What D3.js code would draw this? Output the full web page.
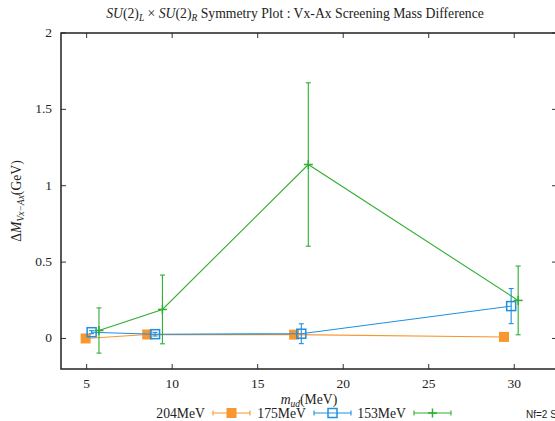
<!DOCTYPE html>
<html lang="en">
<head>
<meta charset="UTF-8">
<title>SU(2) Symmetry Plot</title>
<script src="https://d3js.org/d3.v7.min.js"></script>
<style>
    body { margin: 0; background: #fff; }
    svg text { font-family: "Liberation Serif", "DejaVu Serif", serif; fill: #222; }
    .tick-label { font-size: 13.5px; }
</style>
</head>
<body>
<svg id="chart" width="555" height="421"></svg>
<script>
// series labels (legend)
const massLabels = ["204MeV", "175MeV", "153MeV"];
const colors = ["#f8962f", "#1f8fe0", "#2fae2f"];

// m_ud (MeV) and Delta M (GeV) with errors
const mud204 = [4.94, 8.54, 17.13, 29.4];
const dm204 = [0.0, 0.026, 0.025, 0.01];
const err204 = [0.004, 0.004, 0.004, 0.004];

const mud175 = [5.29, 9.0, 17.55, 29.82];
const dm175 = [0.041, 0.028, 0.031, 0.212];
const err175 = [0.01, 0.012, 0.065, 0.115];

const mud153 = [5.72, 9.43, 17.96, 30.23];
const dm153 = [0.052, 0.19, 1.139, 0.249];
const err153 = [0.148, 0.225, 0.535, 0.225];

const xTicks = [5, 10, 15, 20, 25, 30];
const yTicks = [0, 0.5, 1, 1.5, 2];

const series = [
    { label: massLabels[0], color: colors[0], marker: "filled", x: mud204, y: dm204, e: err204 },
    { label: massLabels[1], color: colors[1], marker: "open", x: mud175, y: dm175, e: err175 },
    { label: massLabels[2], color: colors[2], marker: "plus", x: mud153, y: dm153, e: err153 }
];

const svg = d3.select("#chart");
const plot = { left: 61, right: 557, top: 33, bottom: 369 };

const x = d3.scaleLinear().domain([3.5, 32.5]).range([plot.left, plot.right]);
const y = d3.scaleLinear().domain([-0.2, 2]).range([plot.bottom, plot.top]);

// ticks on all four sides, pointing inward
const tickLen = 5;
const axes = svg.append("g").attr("stroke", "#333").attr("stroke-width", 1);
xTicks.forEach(t => {
    axes.append("line").attr("x1", x(t)).attr("x2", x(t)).attr("y1", plot.bottom).attr("y2", plot.bottom - tickLen);
    axes.append("line").attr("x1", x(t)).attr("x2", x(t)).attr("y1", plot.top).attr("y2", plot.top + tickLen);
});
yTicks.forEach(t => {
    axes.append("line").attr("x1", plot.left).attr("x2", plot.left + tickLen).attr("y1", y(t)).attr("y2", y(t));
    axes.append("line").attr("x1", plot.right).attr("x2", plot.right - tickLen).attr("y1", y(t)).attr("y2", y(t));
});

svg.selectAll(".xt").data(xTicks).enter().append("text")
    .attr("class", "tick-label")
    .attr("x", d => x(d)).attr("y", plot.bottom + 19)
    .attr("text-anchor", "middle")
    .text(d => d);

svg.selectAll(".yt").data(yTicks).enter().append("text")
    .attr("class", "tick-label")
    .attr("x", plot.left - 9).attr("y", d => y(d) + 4)
    .attr("text-anchor", "end")
    .text(d => d);

// border
svg.append("rect")
    .attr("x", plot.left).attr("y", plot.top)
    .attr("width", plot.right - plot.left).attr("height", plot.bottom - plot.top)
    .attr("fill", "none").attr("stroke", "#222").attr("stroke-width", 1.5);

function drawMarker(g, kind, cx, cy, color) {
    if (kind === "filled") {
        g.append("rect").attr("x", cx - 5).attr("y", cy - 5).attr("width", 10).attr("height", 10)
            .attr("fill", color);
    } else if (kind === "open") {
        g.append("rect").attr("x", cx - 4.5).attr("y", cy - 4.5).attr("width", 9).attr("height", 9)
            .attr("fill", "none").attr("stroke", color).attr("stroke-width", 1.5);
    } else {
        g.append("line").attr("x1", cx - 4.5).attr("x2", cx + 4.5).attr("y1", cy).attr("y2", cy)
            .attr("stroke", color).attr("stroke-width", 1.5);
        g.append("line").attr("x1", cx).attr("x2", cx).attr("y1", cy - 4.5).attr("y2", cy + 4.5)
            .attr("stroke", color).attr("stroke-width", 1.5);
    }
}

const line = d3.line().x(d => x(d[0])).y(d => y(d[1]));

series.forEach(s => {
    const g = svg.append("g");
    const pts = s.x.map((v, i) => [v, s.y[i], s.e[i]]);
    g.append("path").attr("d", line(pts))
        .attr("fill", "none").attr("stroke", s.color).attr("stroke-width", 1.1);
    pts.forEach(p => {
        const cx = x(p[0]);
        g.append("line").attr("x1", cx).attr("x2", cx).attr("y1", y(p[1] - p[2])).attr("y2", y(p[1] + p[2]))
            .attr("stroke", s.color).attr("stroke-width", 1.1);
        [p[1] - p[2], p[1] + p[2]].forEach(v => {
            g.append("line").attr("x1", cx - 2.5).attr("x2", cx + 2.5).attr("y1", y(v)).attr("y2", y(v))
                .attr("stroke", s.color).attr("stroke-width", 1.1);
        });
        drawMarker(g, s.marker, cx, y(p[1]), s.color);
    });
});

// title
const title = svg.append("text").attr("x", 295).attr("y", 18).attr("text-anchor", "middle").attr("font-size", 13.7);
title.append("tspan").attr("font-style", "italic").text("SU");
title.append("tspan").text("(2)");
title.append("tspan").attr("font-style", "italic").attr("font-size", 9.5).attr("dy", 3).text("L");
title.append("tspan").attr("dy", -3).text(" × ");
title.append("tspan").attr("font-style", "italic").text("SU");
title.append("tspan").text("(2)");
title.append("tspan").attr("font-style", "italic").attr("font-size", 9.5).attr("dy", 3).text("R");
title.append("tspan").attr("dy", -3).text(" Symmetry Plot : Vx-Ax Screening Mass Difference");

// y label
const yl = svg.append("text")
    .attr("transform", `translate(21,${(plot.top + plot.bottom) / 2}) rotate(-90)`)
    .attr("text-anchor", "middle").attr("font-size", 13.7);
yl.append("tspan").text("Δ");
yl.append("tspan").attr("font-style", "italic").text("M");
yl.append("tspan").attr("font-style", "italic").attr("font-size", 9.5).attr("dy", 3).text("Vx−Ax");
yl.append("tspan").attr("dy", -3).text("(GeV)");

// x label
const xl = svg.append("text").attr("x", 309).attr("y", 404).attr("text-anchor", "middle").attr("font-size", 13.7);
xl.append("tspan").attr("font-style", "italic").text("m");
xl.append("tspan").attr("font-style", "italic").attr("font-size", 9.5).attr("dy", 2.5).text("ud");
xl.append("tspan").attr("dy", -2.5).text("(MeV)");

// legend
const legendStarts = [213, 314, 414];
const legY = 413;
series.forEach((s, i) => {
    const x0 = legendStarts[i], x1 = x0 + 37, cx = (x0 + x1) / 2;
    const g = svg.append("g");
    g.append("text").attr("x", x0 - 8).attr("y", legY + 4.5).attr("text-anchor", "end")
        .attr("font-size", 13.7).text(s.label);
    g.append("line").attr("x1", x0).attr("x2", x1).attr("y1", legY).attr("y2", legY)
        .attr("stroke", s.color).attr("stroke-width", 1.1);
    [x0, x1].forEach(xx => {
        g.append("line").attr("x1", xx).attr("x2", xx).attr("y1", legY - 2.5).attr("y2", legY + 2.5)
            .attr("stroke", s.color).attr("stroke-width", 1.1);
    });
    drawMarker(g, s.marker, cx, legY, s.color);
});

svg.append("text").attr("x", 526).attr("y", 418)
    .style("font-family", "'Liberation Sans', Arial, sans-serif")
    .attr("font-size", 10).text("Nf=2 Staggered");
</script>
</body>
</html>
